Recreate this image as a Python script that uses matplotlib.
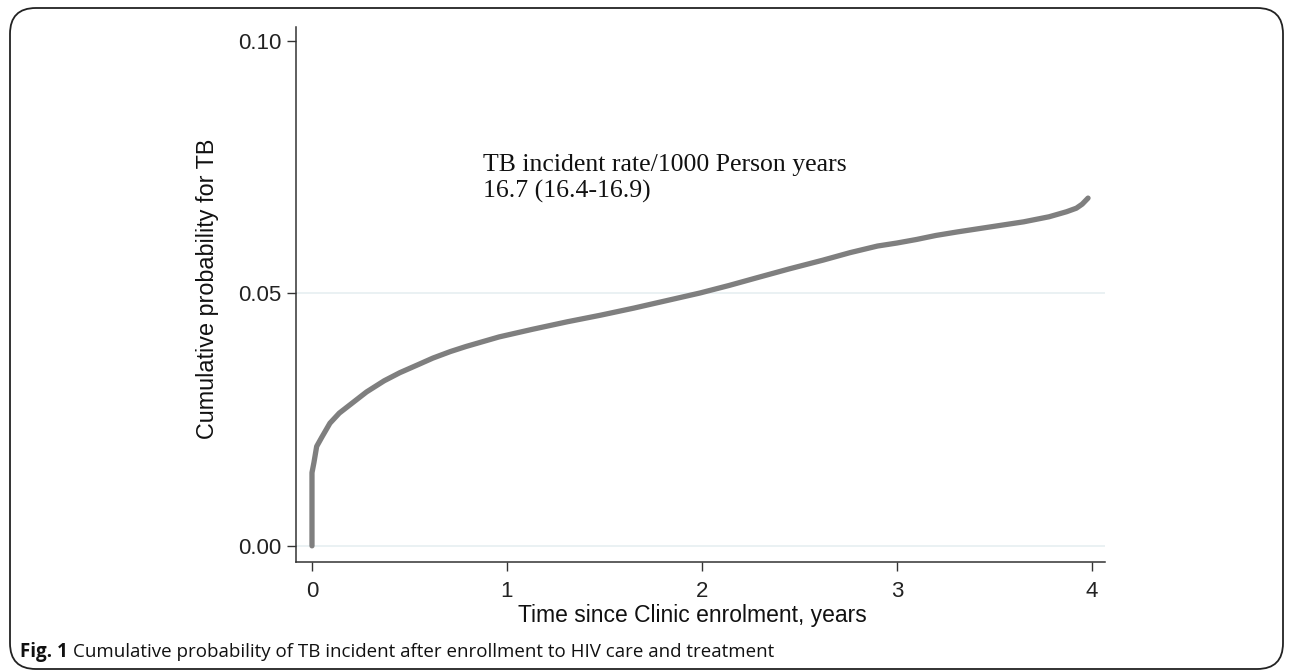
import numpy as np
import matplotlib
matplotlib.use("Agg")
import matplotlib.pyplot as plt
from matplotlib.patches import FancyBboxPatch

# valores (curva acumulada)
years = [0, 0, 0.01, 0.024, 0.05, 0.092, 0.14, 0.2, 0.28, 0.37, 0.45, 0.55, 0.62, 0.71,
         0.79, 0.96, 1.13, 1.31, 1.48, 1.65, 1.82, 1.99, 2.14, 2.28, 2.45, 2.62, 2.76,
         2.9, 3.0, 3.1, 3.2, 3.31, 3.48, 3.65, 3.78, 3.87, 3.92, 3.95, 3.98]
cum_prob = [0, 0.0145, 0.0165, 0.0197, 0.0215, 0.0243, 0.0263, 0.0281, 0.0305, 0.0327,
            0.0343, 0.0360, 0.0372, 0.0385, 0.0395, 0.0414, 0.0429, 0.0444, 0.0457,
            0.0471, 0.0486, 0.0501, 0.0516, 0.0531, 0.0549, 0.0566, 0.0581, 0.0594,
            0.0600, 0.0607, 0.0615, 0.0622, 0.0632, 0.0642, 0.0652, 0.0662, 0.0669,
            0.0677, 0.0689]

x_ticks = [0, 1, 2, 3, 4]
y_ticks = [0.00, 0.05, 0.10]
y_tick_labels = ["0.00", "0.05", "0.10"]
grid_levels = [0.00, 0.05]

note = "TB incident rate/1000 Person years\n16.7 (16.4-16.9)"
caption_bold = "Fig. 1"
caption_rest = "Cumulative probability of TB incident after enrollment to HIV care and treatment"

fig = plt.figure(figsize=(12.93, 6.72), dpi=100)

# marco redondeado alrededor de todo
frame = FancyBboxPatch((10 / 1293, 3 / 672), 1273 / 1293, 661 / 672,
                       boxstyle="round,pad=0,rounding_size=0.02",
                       transform=fig.transFigure, fill=False,
                       edgecolor="#222222", linewidth=1.3, mutation_aspect=1293 / 672)
fig.patches.append(frame)

ax = fig.add_axes([296 / 1293, 1 - 562 / 672, 809 / 1293, 535 / 672])

for g in grid_levels:
    ax.axhline(g, color="#e6eff1", linewidth=1.2, zorder=0)

ax.plot(years, cum_prob, color="#7f7f7f", linewidth=3.8,
        solid_capstyle="round", solid_joinstyle="round", zorder=3)

ax.set_xlim(-0.082, 4.067)
ax.set_ylim(-0.0032, 0.1028)

ax.spines["top"].set_visible(False)
ax.spines["right"].set_visible(False)
for s in ["left", "bottom"]:
    ax.spines[s].set_color("#333333")
    ax.spines[s].set_linewidth(1.1)

ax.set_xticks(x_ticks)
ax.set_yticks(y_ticks)
ax.set_yticklabels(y_tick_labels)
ax.tick_params(axis="both", direction="out", length=6.5, width=1.0,
               color="#333333", labelsize=16)
ax.tick_params(axis="x", pad=7)
ax.tick_params(axis="y", pad=4)
for lbl in ax.get_xticklabels() + ax.get_yticklabels():
    lbl.set_fontfamily("Liberation Sans")
    lbl.set_color("#222222")

ax.set_xlabel("Time since Clinic enrolment, years", fontsize=16.5,
              family="Liberation Sans", color="#111111")
ax.xaxis.set_label_coords(0.49, -0.078)
ax.set_ylabel("Cumulative probability for TB", fontsize=16.8,
              family="Liberation Sans", color="#111111")
ax.yaxis.set_label_coords(-0.095, 0.51)

ax.text(0.231, 0.762, note, transform=ax.transAxes, fontsize=18.5,
        family="Liberation Serif", color="#111111", va="top", ha="left",
        linespacing=1.2)

# pie de figura: parte en negrita y luego el resto
cap_y = 1 - 652 / 672
t_bold = fig.text(20 / 1293, cap_y, caption_bold, fontsize=13.5, fontweight="bold",
                  family="Open Sans", va="center", ha="left", color="#111111")
fig.canvas.draw()
bb = t_bold.get_window_extent()
fig.text((bb.x1 + 5) / 1293, cap_y, caption_rest, fontsize=13.5,
         family="Open Sans", va="center", ha="left", color="#111111")

fig.savefig("out.png", dpi=100)
